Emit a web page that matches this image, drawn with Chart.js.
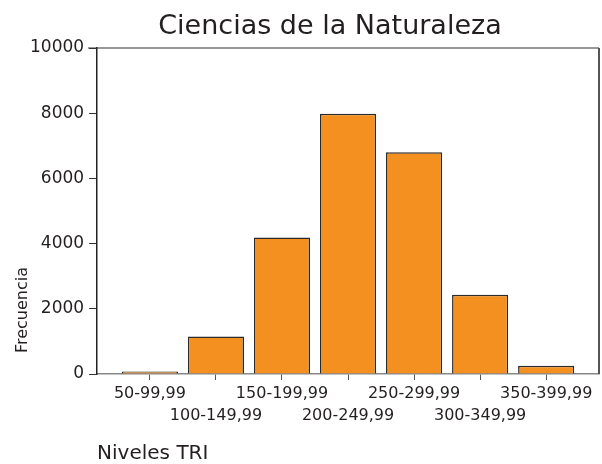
<!DOCTYPE html>
<html>
<head>
<meta charset="utf-8">
<script src="https://cdn.jsdelivr.net/npm/chart.js@4"></script>
<style>
  html, body { margin: 0; padding: 0; background: #fff; }
  #wrap { width: 602px; height: 464px; }
</style>
</head>
<body>
<div id="wrap"><canvas id="niveles_tri"></canvas></div>
<script>
// datos
var categorias = ["50-99,99", "100-149,99", "150-199,99", "200-249,99", "250-299,99", "300-349,99", "350-399,99"];
var frecuencias = [80, 1150, 4190, 7980, 6800, 2430, 250];
var ticksY = [0, 2000, 4000, 6000, 8000, 10000];

var tituloPrincipal = "Ciencias de la Naturaleza";
var tituloX = "Niveles TRI";
var tituloY = "Frecuencia";

var fuente = "DejaVu Sans";
var colorTexto = "#231f20";

// recuadro superior/derecho y titulos sueltos
var marcoYTitulos = {
    id: 'marcoYTitulos',
    afterDraw: function(chart) {
        var ctx = chart.ctx;
        var a = chart.chartArea;
        ctx.save();
        ctx.strokeStyle = '#333';
        ctx.lineWidth = 1.2;
        ctx.beginPath();
        ctx.moveTo(a.left - 9, a.top);
        ctx.lineTo(a.right, a.top);
        ctx.stroke();
        ctx.strokeStyle = '#555';
        ctx.lineWidth = 2;
        ctx.beginPath();
        ctx.moveTo(a.right, a.top);
        ctx.lineTo(a.right, a.bottom);
        ctx.stroke();

        ctx.fillStyle = colorTexto;
        ctx.font = "27px '" + fuente + "'";
        ctx.textAlign = 'center';
        ctx.textBaseline = 'alphabetic';
        ctx.fillText(tituloPrincipal, 330, 34);

        ctx.font = "16px '" + fuente + "'";
        ctx.translate(27, 310);
        ctx.rotate(-Math.PI / 2);
        ctx.fillText(tituloY, 0, 0);
        ctx.restore();
    }
};

var ctx = document.getElementById("niveles_tri").getContext('2d');
var myChart = new Chart(ctx, {
    type: 'bar',
    data: {
        datasets: [{
            label: tituloY,
            data: frecuencias.map(function(v, i) { return {x: i, y: v}; }),
            backgroundColor: '#f39020',
            borderColor: '#2b2b2b',
            borderWidth: 1.5,
            borderSkipped: 'bottom',
            barPercentage: 0.85,
            categoryPercentage: 1
        }]
    },
    options: {
        responsive: true,
        maintainAspectRatio: false,
        animation: false,
        layout: {
            padding: {top: 48, left: 25, right: 3, bottom: 0}
        },
        plugins: {
            legend: {display: false},
            tooltip: {enabled: false}
        },
        scales: {
            x: {
                type: 'linear',
                offset: false,
                min: -0.8,
                max: categorias.length - 0.2,
                afterBuildTicks: function(scale) {
                    scale.ticks = categorias.map(function(c, i) { return {value: i}; });
                },
                grid: {
                    offset: false,
                    drawOnChartArea: false,
                    tickLength: 6,
                    tickColor: '#555'
                },
                border: {color: '#888', width: 1.5},
                ticks: {
                    autoSkip: false,
                    maxRotation: 0,
                    padding: 3,
                    color: colorTexto,
                    font: {family: fuente, size: 16, lineHeight: 1.375},
                    callback: function(value, index) {
                        var t = categorias[value];
                        return index % 2 ? ['', t] : t;
                    }
                },
                title: {
                    display: true,
                    text: tituloX,
                    align: 'start',
                    color: colorTexto,
                    font: {family: fuente, size: 20, lineHeight: 1.0},
                    padding: {top: 14, bottom: 0}
                }
            },
            y: {
                min: 0,
                max: 10000,
                afterBuildTicks: function(scale) {
                    scale.ticks = ticksY.map(function(v) { return {value: v}; });
                },
                grid: {
                    drawOnChartArea: false,
                    tickLength: 8,
                    tickColor: '#333'
                },
                border: {color: '#222', width: 1.5},
                ticks: {
                    padding: 5,
                    color: colorTexto,
                    font: {family: fuente, size: 17},
                    callback: function(value) { return String(value); }
                }
            }
        }
    },
    plugins: [marcoYTitulos]
});
</script>
</body>
</html>
